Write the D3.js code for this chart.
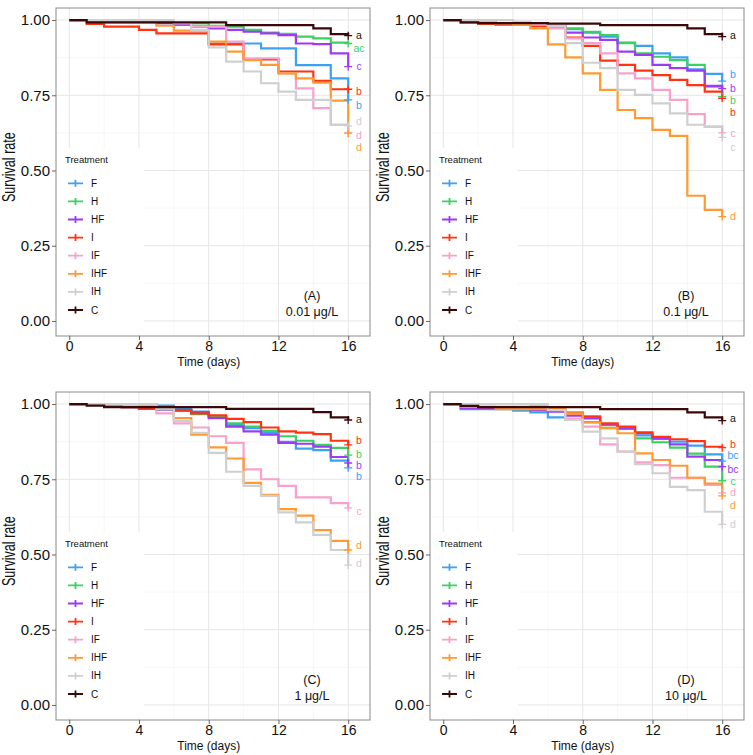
<!DOCTYPE html>
<html><head><meta charset="utf-8">
<script src="https://cdn.jsdelivr.net/npm/d3@7"></script>
<style>body{margin:0;background:#fff}svg{display:block;font-family:"Liberation Sans",Arial,sans-serif}</style>
</head><body>
<svg id="chart" width="753" height="755"></svg>
<script>
// ---------------- data ----------------
const days = [0,1,2,3,4,5,6,7,8,9,10,11,12,13,14,15,16];
const treatments = ["F","H","HF","I","IF","IHF","IH","C"];
const colors = ["#3ba1f2","#3ccf62","#9b3cf2","#ff3311","#f7a1cb","#ff9a33","#cfcfcf","#3a0808"];
const xTicks = [0,4,8,12,16];
const yTicks = [0,0.25,0.5,0.75,1];
const yTickLabels = ["0.00","0.25","0.50","0.75","1.00"];
const panelTags = ["(A)","(B)","(C)","(D)"];
const concentrations = ["0.01 μg/L","0.1 μg/L","1 μg/L","10 μg/L"];

// Panel A (0.01 μg/L)
const A_F   = [1,1,1,1,0.995,0.99,0.985,0.978,0.922,0.922,0.922,0.906,0.906,0.85,0.85,0.806,0.735];
const A_H   = [1,1,1,1,1,0.995,0.989,0.989,0.981,0.978,0.967,0.958,0.954,0.945,0.939,0.925,0.922];
const A_HF  = [1,1,1,1,0.995,0.99,0.985,0.978,0.972,0.967,0.961,0.956,0.95,0.922,0.92,0.889,0.845];
const A_I   = [1,0.987,0.978,0.978,0.967,0.956,0.956,0.956,0.919,0.919,0.869,0.869,0.829,0.829,0.798,0.77,0.77];
const A_IF  = [1,1,1,1,1,1,0.99,0.978,0.978,0.928,0.873,0.873,0.823,0.773,0.707,0.652,0.625];
const A_IHF = [1,1,0.992,0.992,0.992,0.981,0.965,0.965,0.928,0.895,0.867,0.851,0.823,0.806,0.792,0.732,0.624];
const A_IH  = [1,1,1,1,1,1,0.99,0.967,0.909,0.862,0.829,0.79,0.762,0.735,0.735,0.652,0.648];
const A_C   = [1,0.992,0.992,0.992,0.992,0.992,0.992,0.992,0.992,0.983,0.983,0.983,0.983,0.983,0.972,0.953,0.948];
const A_letters = ["b","ac","c","b","d","d","d","a"];
const A_letterY = [0.718,0.906,0.845,0.764,0.618,0.577,0.665,0.95];

// Panel B (0.1 μg/L)
const B_F   = [1,1,0.995,0.99,0.99,0.985,0.98,0.97,0.958,0.945,0.925,0.914,0.889,0.876,0.836,0.821,0.797];
const B_H   = [1,1,0.995,0.99,0.99,0.985,0.98,0.972,0.961,0.95,0.923,0.889,0.878,0.867,0.851,0.779,0.745];
const B_HF  = [1,1,0.995,0.99,0.99,0.985,0.98,0.958,0.942,0.934,0.895,0.884,0.851,0.84,0.832,0.781,0.772];
const B_I   = [1,0.992,0.987,0.985,0.985,0.98,0.975,0.942,0.914,0.865,0.851,0.832,0.817,0.801,0.784,0.762,0.74];
const B_IF  = [1,1,0.995,0.99,0.99,0.985,0.972,0.939,0.923,0.889,0.823,0.806,0.768,0.735,0.687,0.646,0.625];
const B_IHF = [1,0.995,0.99,0.99,0.985,0.972,0.919,0.876,0.823,0.768,0.701,0.674,0.635,0.615,0.416,0.369,0.347];
const B_IH  = [1,1,1,1,0.995,0.99,0.98,0.923,0.858,0.84,0.768,0.751,0.723,0.69,0.652,0.645,0.61];
const B_C   = [1,0.992,0.99,0.99,0.99,0.99,0.988,0.988,0.988,0.983,0.983,0.983,0.983,0.983,0.972,0.953,0.945];
const B_letters = ["b","b","b","b","c","d","c","a"];
const B_letterY = [0.821,0.732,0.773,0.692,0.624,0.347,0.576,0.95];

// Panel C (1 μg/L)
const C_F   = [1,1,1,1,1,0.995,0.985,0.975,0.958,0.931,0.92,0.904,0.874,0.852,0.847,0.812,0.788];
const C_H   = [1,1,0.995,0.99,0.985,0.982,0.978,0.966,0.958,0.936,0.925,0.911,0.893,0.878,0.864,0.854,0.83];
const C_HF  = [1,1,0.995,0.99,0.985,0.982,0.978,0.972,0.953,0.925,0.909,0.898,0.871,0.868,0.858,0.824,0.804];
const C_I   = [1,1,0.995,0.99,0.985,0.985,0.98,0.969,0.962,0.951,0.94,0.922,0.909,0.905,0.9,0.878,0.864];
const C_IF  = [1,1,1,1,0.995,0.969,0.936,0.922,0.893,0.871,0.783,0.75,0.728,0.69,0.69,0.671,0.655];
const C_IHF = [1,1,1,1,1,0.985,0.953,0.898,0.856,0.819,0.738,0.698,0.651,0.629,0.581,0.545,0.515];
const C_IH  = [1,1,1,1,1,0.985,0.944,0.904,0.838,0.775,0.728,0.695,0.64,0.607,0.565,0.515,0.465];
const C_C   = [1,0.995,0.99,0.99,0.99,0.99,0.99,0.99,0.99,0.984,0.984,0.984,0.984,0.984,0.973,0.956,0.947];
const C_letters = ["b","b","b","b","c","d","d","a"];
const C_letterY = [0.761,0.834,0.797,0.878,0.642,0.529,0.471,0.95];

// Panel D (10 μg/L)
const D_F   = [1,0.983,0.983,0.983,0.978,0.972,0.956,0.948,0.94,0.92,0.92,0.896,0.884,0.875,0.862,0.833,0.81];
const D_H   = [1,0.994,0.99,0.99,0.988,0.985,0.98,0.972,0.958,0.93,0.92,0.886,0.873,0.855,0.835,0.792,0.745];
const D_HF  = [1,0.986,0.986,0.986,0.984,0.98,0.975,0.961,0.952,0.932,0.918,0.903,0.886,0.866,0.825,0.814,0.792];
const D_I   = [1,0.995,0.99,0.99,0.988,0.985,0.98,0.969,0.958,0.936,0.925,0.906,0.891,0.883,0.877,0.858,0.855];
const D_IF  = [1,1,1,1,1,0.995,0.99,0.952,0.925,0.866,0.842,0.806,0.797,0.755,0.755,0.731,0.705];
const D_IHF = [1,0.991,0.991,0.983,0.983,0.983,0.983,0.969,0.939,0.921,0.903,0.836,0.814,0.795,0.755,0.736,0.695];
const D_IH  = [1,1,1,1,1,1,0.98,0.947,0.908,0.886,0.842,0.8,0.77,0.725,0.714,0.642,0.6];
const D_C   = [1,0.994,0.99,0.99,0.99,0.99,0.99,0.99,0.99,0.983,0.983,0.983,0.983,0.983,0.972,0.956,0.945];
const D_letters = ["bc","c","bc","b","d","d","d","a"];
const D_letterY = [0.828,0.742,0.784,0.866,0.707,0.662,0.6,0.952];

const panelSeries = [
  [A_F,A_H,A_HF,A_I,A_IF,A_IHF,A_IH,A_C],
  [B_F,B_H,B_HF,B_I,B_IF,B_IHF,B_IH,B_C],
  [C_F,C_H,C_HF,C_I,C_IF,C_IHF,C_IH,C_C],
  [D_F,D_H,D_HF,D_I,D_IF,D_IHF,D_IH,D_C]
];
const panelLetters = [A_letters,B_letters,C_letters,D_letters];
const panelLetterY = [A_letterY,B_letterY,C_letterY,D_letterY];

// ---------------- layout ----------------
const svg = d3.select("#chart");
const colLeft = [56, 430], rowTop = [8, 392];
const pw = 314, ph = 328;

panelSeries.forEach((series, p) => {
  const left = colLeft[p % 2], top = rowTop[Math.floor(p / 2)];
  const g = svg.append("g").attr("transform", `translate(${left},${top})`);
  const x = d3.scaleLinear().domain([-0.76, 17.25]).range([0, pw]);
  const y = d3.scaleLinear().domain([-0.05, 1.04]).range([ph, 0]);

  g.append("rect").attr("width", pw).attr("height", ph).attr("fill", "#fff");
  const clipId = "clip" + p;
  g.append("clipPath").attr("id", clipId).append("rect").attr("width", pw).attr("height", ph);

  // grid
  const grid = g.append("g");
  [2,6,10,14].forEach(d => grid.append("line").attr("x1", x(d)).attr("x2", x(d)).attr("y1", 0).attr("y2", ph).attr("stroke", "#f2f2f2").attr("stroke-width", 0.6));
  [0.125,0.375,0.625,0.875].forEach(v => grid.append("line").attr("y1", y(v)).attr("y2", y(v)).attr("x1", 0).attr("x2", pw).attr("stroke", "#f2f2f2").attr("stroke-width", 0.6));
  xTicks.forEach(d => grid.append("line").attr("x1", x(d)).attr("x2", x(d)).attr("y1", 0).attr("y2", ph).attr("stroke", "#e6e6e6").attr("stroke-width", 1));
  yTicks.forEach(v => grid.append("line").attr("y1", y(v)).attr("y2", y(v)).attr("x1", 0).attr("x2", pw).attr("stroke", "#e6e6e6").attr("stroke-width", 1));

  // curves
  const line = d3.line().curve(d3.curveStepAfter).x((d, i) => x(days[i])).y(d => y(d));
  const curves = g.append("g").attr("clip-path", `url(#${clipId})`);
  series.forEach((vals, i) => {
    curves.append("path").attr("d", line(vals)).attr("fill", "none")
      .attr("stroke", colors[i]).attr("stroke-width", 2.2);
  });
  series.forEach((vals, i) => {
    const cx = x(days[16]), cy = y(vals[16]);
    curves.append("path").attr("d", `M${cx-4},${cy}H${cx+4}M${cx},${cy-4}V${cy+4}`)
      .attr("stroke", colors[i]).attr("stroke-width", 1.3);
  });

  // significance letters
  panelLetters[p].forEach((t, i) => {
    g.append("text").attr("x", x(16.62)).attr("y", y(panelLetterY[p][i])).attr("dy", "0.35em")
      .attr("text-anchor", "middle").attr("font-size", 10.5).attr("fill", i === 7 ? "#111" : colors[i]).text(t);
  });

  // legend
  const lg = g.append("g");
  lg.append("rect").attr("x", 1).attr("y", 140).attr("width", 87).attr("height", 186).attr("fill", "#fff");
  lg.append("text").attr("x", 9).attr("y", 152).attr("dy", "0.35em").attr("font-size", 9.5).attr("fill", "#111").text("Treatment");
  treatments.forEach((t, i) => {
    const yy = 175.3 + i * 18.1;
    lg.append("path").attr("d", `M12,${yy}H27M19.5,${yy-3.5}V${yy+3.5}`).attr("stroke", colors[i]).attr("stroke-width", 1.8);
    lg.append("text").attr("x", 35).attr("y", yy).attr("dy", "0.35em").attr("font-size", 10).attr("fill", "#111").text(t);
  });

  // panel tag
  g.append("text").attr("x", 256).attr("y", 288).attr("dy", "0.35em").attr("text-anchor", "middle").attr("font-size", 12.5).attr("fill", "#111").text(panelTags[p]);
  g.append("text").attr("x", 256).attr("y", 304).attr("dy", "0.35em").attr("text-anchor", "middle").attr("font-size", 12.5).attr("fill", "#111").text(concentrations[p]);

  // border
  g.append("rect").attr("width", pw).attr("height", ph).attr("fill", "none").attr("stroke", "#8a8a8a").attr("stroke-width", 1);

  // axes
  const xa = g.append("g").attr("transform", `translate(0,${ph})`)
    .call(d3.axisBottom(x).tickValues(xTicks).tickSize(4).tickPadding(1.5).tickFormat(d3.format("d")));
  const ya = g.append("g")
    .call(d3.axisLeft(y).tickValues(yTicks).tickSize(4).tickPadding(2).tickFormat((d, i) => yTickLabels[i]));
  [xa, ya].forEach(a => {
    a.select(".domain").remove();
    a.selectAll(".tick line").attr("stroke", "#666");
    a.selectAll(".tick text").attr("fill", "#111").attr("font-family", "Liberation Sans, Arial, sans-serif");
  });
  xa.selectAll(".tick text").attr("font-size", 14);
  ya.selectAll(".tick text").attr("font-size", 15);

  // axis titles
  g.append("text").attr("x", x(8)).attr("y", ph + 29.5).attr("text-anchor", "middle").attr("font-size", 12).attr("fill", "#111").text("Time (days)");
  g.append("text").attr("transform", `translate(${-41},${y(0.395)}) rotate(-90) scale(0.7,1)`)
    .attr("text-anchor", "start").attr("font-size", 18).attr("fill", "#111").text("Survival rate");
});
</script>
</body></html>
